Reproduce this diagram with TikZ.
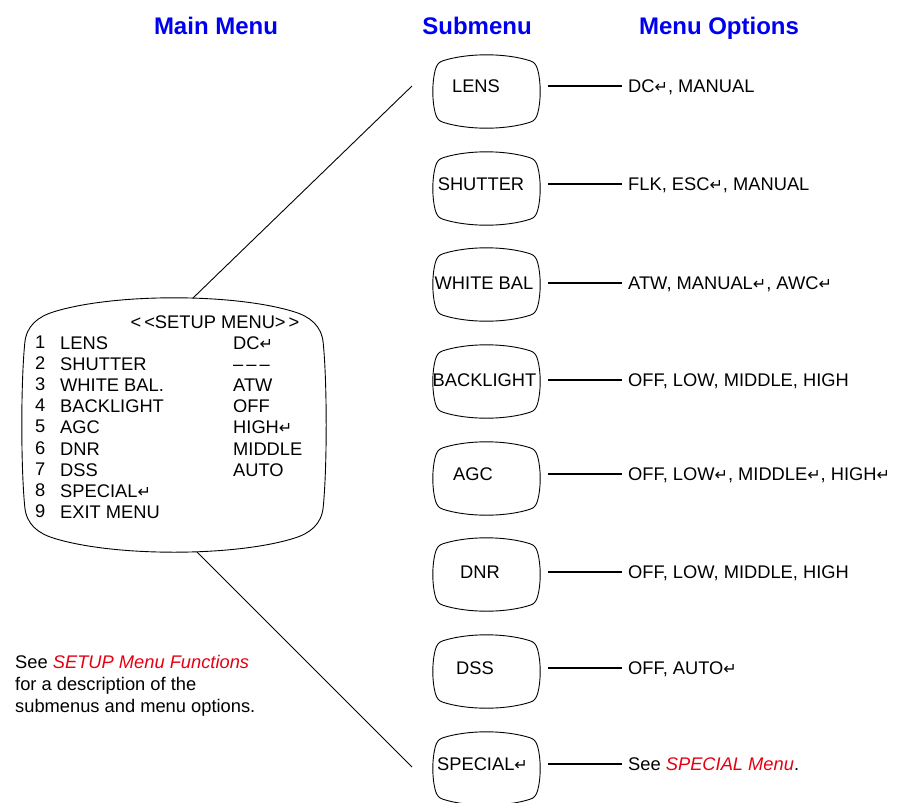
\documentclass[tikz,border=0pt]{standalone}
\usepackage{fontspec}
\setmainfont{Liberation Sans}
\newfontfamily\symf{DejaVu Sans}
\usetikzlibrary{calc}
\definecolor{hblue}{RGB}{0,0,240}
\definecolor{lred}{RGB}{230,0,18}
\newcommand\ret{{\symf\fontsize{16}{16}\selectfont\raisebox{0pt}{↵}}}
\newcommand\tvframe[7]{%
\pgfmathsetmacro\xa{#2}\pgfmathsetmacro\yb{#3}\pgfmathsetmacro\xc{#4}%
\pgfmathsetmacro\yd{#5}\pgfmathsetmacro\kh{#6}\pgfmathsetmacro\kv{#7}%
\pgfmathsetmacro\cax{#2-0.55*(#2-#4)}%
\pgfmathsetmacro\cay{#3+0.55*(#2-#4)*4*#3/(3*#6)}%
\pgfmathsetmacro\cbx{#4+0.55*(#5-#3)/#7*4*#4/3}%
\pgfmathsetmacro\cby{#5-0.55*(#5-#3)}%
\pgfmathsetmacro\ty{#3/3}\pgfmathsetmacro\sx{#4/3}%
\draw[frame] ($(#1.north west)+(\xa,\yb)$)
 .. controls ($(#1.north west)+(\xa+\kh,-\ty)$) and ($(#1.north east)+(-\xa-\kh,-\ty)$) .. ($(#1.north east)+(-\xa,\yb)$)
 .. controls ($(#1.north east)+(-\cax,\cay)$) and ($(#1.north east)+(-\cbx,\cby)$) .. ($(#1.north east)+(-\xc,\yd)$)
 .. controls ($(#1.north east)+(\sx,\yd+\kv)$) and ($(#1.south east)+(\sx,-\yd-\kv)$) .. ($(#1.south east)+(-\xc,-\yd)$)
 .. controls ($(#1.south east)+(-\cbx,-\cby)$) and ($(#1.south east)+(-\cax,-\cay)$) .. ($(#1.south east)+(-\xa,-\yb)$)
 .. controls ($(#1.south east)+(-\xa-\kh,\ty)$) and ($(#1.south west)+(\xa+\kh,\ty)$) .. ($(#1.south west)+(\xa,-\yb)$)
 .. controls ($(#1.south west)+(\cax,-\cay)$) and ($(#1.south west)+(\cbx,-\cby)$) .. ($(#1.south west)+(\xc,-\yd)$)
 .. controls ($(#1.south west)+(-\sx,-\yd-\kv)$) and ($(#1.north west)+(-\sx,\yd+\kv)$) .. ($(#1.north west)+(\xc,\yd)$)
 .. controls ($(#1.north west)+(\cbx,\cby)$) and ($(#1.north west)+(\cax,\cay)$) .. cycle;}
\begin{document}
\begin{tikzpicture}[x=1pt,y=-1pt,
  frame/.style={draw=black,line width=0.9pt},
  hdr/.style={font=\fontsize{24}{28}\selectfont\bfseries,text=hblue,inner sep=0pt,anchor=base},
  txt/.style={font=\fontsize{18.3}{21}\selectfont,inner sep=0pt},
  mtxt/.style={txt,anchor=base west},
  lbl/.style={txt,text height=13.1pt,text depth=0pt,anchor=center},
  opt/.style={txt,text height=13.1pt,text depth=0pt,anchor=west,inner xsep=6pt},
  hline/.style={line width=1.5pt},
  dline/.style={line width=0.9pt},
  boxn/.style={draw=none,inner sep=0pt,minimum width=107pt,minimum height=73pt}]
\useasboundingbox (0,0) rectangle (916,803);
% headers
\node[hdr] (h1) at (216,34.6) {Main Menu};
\node[hdr] (h2) at (477,34.6) {Submenu};
\node[hdr] (h3) at (719,34.6) {Menu Options};
% main menu box
\node[draw=none,inner sep=0pt,minimum width=304pt,minimum height=254pt] (mm) at (174,425) {};
\tvframe{mm}{32}{14}{3}{45}{60}{40}
\node[txt,anchor=base] (mtitle) at (215,328.5) {<\kern3pt<SETUP MENU>\kern3pt>};
\foreach \i/\nm/\vl in {1/LENS/DC\ret,2/SHUTTER/{–\,–\,–},3/WHITE BAL./ATW,4/BACKLIGHT/OFF,5/AGC/HIGH\ret,6/DNR/MIDDLE,7/DSS/AUTO,8/SPECIAL\ret/,9/EXIT MENU/}{
  \pgfmathsetmacro\yy{343+21.1*(\i-1)+6.5}
  \node[mtxt] (mn\i) at (35,\yy-1) {\i};
  \node[mtxt] (mi\i) at (60,\yy) {\nm};
  \node[mtxt] (mv\i) at (233,\yy) {\vl};
}
% submenu boxes
\foreach \i/\top in {1/55,2/152,3/248,4/345,5/442,6/538,7/635,8/732}{
  \node[boxn] (s\i) at (486.5,\top+36.5) {};
  \tvframe{s\i}{10}{6}{2.5}{15}{25}{12}
}
% submenu labels
\node[lbl] (l1) at (476,86) {LENS};
\node[lbl] (l2) at (481,184) {SHUTTER};
\node[lbl] (l3) at (484,283) {WHITE BAL};
\node[lbl] (l4) at (484.5,380) {BACKLIGHT};
\node[lbl] (l5) at (473,474) {AGC};
\node[lbl] (l6) at (480,572) {DNR};
\node[lbl] (l7) at (475,668) {DSS};
\node[lbl] (l8) at (482.5,764) {SPECIAL\ret};
% options
\node[opt] (o1) at (622,86) {DC\ret, MANUAL};
\node[opt] (o2) at (622,184) {FLK, ESC\ret, MANUAL};
\node[opt] (o3) at (622,283) {ATW, MANUAL\ret, AWC\ret};
\node[opt] (o4) at (622,380) {OFF, LOW, MIDDLE, HIGH};
\node[opt] (o5) at (622,474) {OFF, LOW\ret, MIDDLE\ret, HIGH\ret};
\node[opt] (o6) at (622,572) {OFF, LOW, MIDDLE, HIGH};
\node[opt] (o7) at (622,668) {OFF, AUTO\ret};
\node[opt] (o8) at (622,764) {See \textcolor{lred}{\itshape SPECIAL Menu}.};
\foreach \i/\yy in {1/86,2/184,3/283,4/380,5/474,6/572,7/668,8/764}{
  \coordinate (c\i) at (548,\yy);
  \draw[hline] (c\i) -- (o\i.west);
}
% diagonal connectors
\coordinate (mt) at (193,298);
\coordinate (mb) at (197,552);
\coordinate (e1) at (412,86);
\coordinate (e2) at (412,767);
\draw[dline] (mt) -- (e1);
\draw[dline] (mb) -- (e2);
% note
\node[mtxt] (n1) at (15,668.5) {See \textcolor{lred}{\itshape SETUP Menu Functions}};
\node[mtxt] (n2) at (15,690.5) {for a description of the};
\node[mtxt] (n3) at (15,712.5) {submenus and menu options.};
\end{tikzpicture}
\end{document}
